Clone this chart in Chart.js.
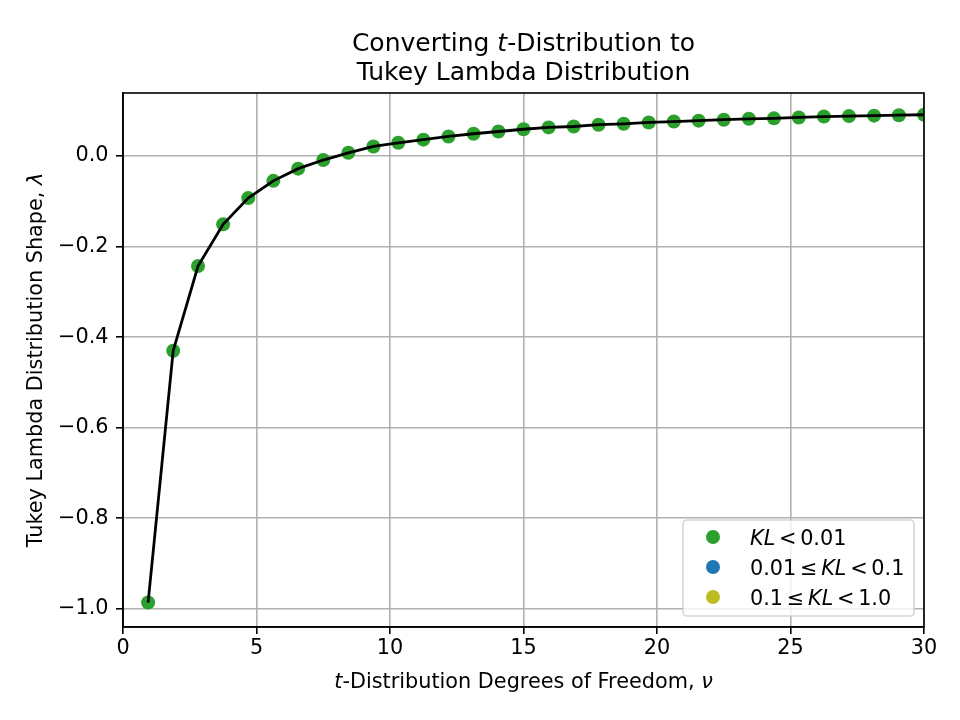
<!DOCTYPE html>
<html>
<head>
<meta charset="utf-8">
<script src="https://cdn.jsdelivr.net/npm/chart.js@4/dist/chart.umd.min.js"></script>
<style>
  html, body { margin: 0; background: #fff; }
</style>
</head>
<body>
<canvas id="graph-area" width="960" height="720"></canvas>
<script>
// degrees of freedom (x) and fitted Tukey lambda shape (y)
const dof = [0.94, 1.88, 2.81, 3.75, 4.69, 5.63, 6.56, 7.5, 8.44, 9.38, 10.31, 11.25,
  12.19, 13.13, 14.06, 15, 15.94, 16.88, 17.81, 18.75, 19.69, 20.63, 21.56, 22.5,
  23.44, 24.38, 25.31, 26.25, 27.19, 28.13, 29.06, 30];
const lambdaShape = [-0.986, -0.430, -0.243, -0.151, -0.093, -0.055, -0.028, -0.009,
  0.007, 0.021, 0.029, 0.036, 0.043, 0.049, 0.054, 0.059, 0.063, 0.065, 0.069, 0.071,
  0.074, 0.076, 0.078, 0.080, 0.082, 0.083, 0.085, 0.087, 0.088, 0.089, 0.090, 0.091];
// no points fall in the two higher KL bins
const lambdaMidKL = [];
const lambdaHighKL = [];

const xTicks = [0, 5, 10, 15, 20, 25, 30];
const yTicks = [-1.0, -0.8, -0.6, -0.4, -0.2, 0.0];

const FONT = '"DejaVu Sans", "Liberation Sans", sans-serif';
const GREEN = '#2ca02c', BLUE = '#1f77b4', OLIVE = '#bcbd22';

// rich text pieces: i = italic (mathtext), sp = thin math space
const titleLines = [
  [{t: 'Converting '}, {t: 't', i: true}, {t: '-Distribution to'}],
  [{t: 'Tukey Lambda Distribution'}]
];
const xLabel = [{t: 't', i: true}, {t: '-Distribution Degrees of Freedom, '}, {t: 'ν', i: true}];
const yLabel = [{t: 'Tukey Lambda Distribution Shape, '}, {t: 'λ', i: true}];
const SP = {sp: true};
const legendItems = [
  {color: GREEN, parts: [{t: 'KL', i: true}, SP, {t: '<'}, SP, {t: '0.01'}]},
  {color: BLUE, parts: [{t: '0.01'}, SP, {t: '≤'}, SP, {t: 'KL', i: true}, SP, {t: '<'}, SP, {t: '0.1'}]},
  {color: OLIVE, parts: [{t: '0.1'}, SP, {t: '≤'}, SP, {t: 'KL', i: true}, SP, {t: '<'}, SP, {t: '1.0'}]}
];

function partWidth(ctx, p, size) {
  if (p.sp) return 0.18 * size;
  ctx.font = (p.i ? 'italic ' : '') + size + 'px ' + FONT;
  return ctx.measureText(p.t).width;
}

function drawRich(ctx, parts, x, y, size, align) {
  const total = parts.reduce((w, p) => w + partWidth(ctx, p, size), 0);
  let cx = align === 'center' ? x - total / 2 : x;
  ctx.textAlign = 'left';
  ctx.textBaseline = 'alphabetic';
  ctx.fillStyle = '#000';
  parts.forEach(p => {
    const w = partWidth(ctx, p, size);
    if (!p.sp) ctx.fillText(p.t, cx, y);
    cx += w;
  });
}

const decorations = {
  id: 'decorations',
  afterDatasetsDraw(chart) {
    const ctx = chart.ctx;
    const a = chart.chartArea;
    ctx.save();
    // full frame (top/right spines)
    ctx.strokeStyle = '#000';
    ctx.lineWidth = 1.6;
    ctx.strokeRect(a.left, a.top, a.right - a.left, a.bottom - a.top);

    // title
    const cx = (a.left + a.right) / 2;
    drawRich(ctx, titleLines[0], cx, 51, 25, 'center');
    drawRich(ctx, titleLines[1], cx, 80, 25, 'center');

    // axis labels
    drawRich(ctx, xLabel, cx, 688, 20.8, 'center');
    ctx.save();
    ctx.translate(42, (a.top + a.bottom) / 2);
    ctx.rotate(-Math.PI / 2);
    drawRich(ctx, yLabel, 0, 0, 20.8, 'center');
    ctx.restore();

    // legend
    const bw = 231, bh = 96;
    const bx = a.right - 10 - bw, by = a.bottom - 11 - bh;
    ctx.beginPath();
    ctx.roundRect(bx, by, bw, bh, 4);
    ctx.fillStyle = 'rgba(255,255,255,0.8)';
    ctx.fill();
    ctx.strokeStyle = 'rgba(204,204,204,0.8)';
    ctx.lineWidth = 1.6;
    ctx.stroke();
    legendItems.forEach((item, k) => {
      const yy = by + 17 + k * 30;
      ctx.beginPath();
      ctx.arc(bx + 30, yy, 7, 0, Math.PI * 2);
      ctx.fillStyle = item.color;
      ctx.fill();
      drawRich(ctx, item.parts, bx + 67, yy + 7.5, 20.8, 'left');
    });
    ctx.restore();
  }
};

const toPoints = ys => ys.map((y, i) => ({x: dof[i], y}));

const ctx = document.querySelector('#graph-area').getContext('2d');
new Chart(ctx, {
  type: 'scatter',
  data: {
    datasets: [
      {
        label: 'fit',
        data: toPoints(lambdaShape),
        showLine: true,
        borderColor: '#000',
        borderWidth: 2.8,
        pointRadius: 0,
        clip: 0,
        order: 0
      },
      {label: 'KL < 0.01', data: toPoints(lambdaShape), backgroundColor: GREEN,
        borderWidth: 0, pointRadius: 7, clip: 0, order: 1},
      {label: '0.01 ≤ KL < 0.1', data: toPoints(lambdaMidKL), backgroundColor: BLUE,
        borderWidth: 0, pointRadius: 7, clip: 0, order: 2},
      {label: '0.1 ≤ KL < 1.0', data: toPoints(lambdaHighKL), backgroundColor: OLIVE,
        borderWidth: 0, pointRadius: 7, clip: 0, order: 3}
    ]
  },
  options: {
    responsive: false,
    animation: false,
    layout: {padding: {top: 93, right: 36, left: 0, bottom: 0}},
    plugins: {legend: {display: false}, title: {display: false}, tooltip: {enabled: false}},
    scales: {
      x: {
        type: 'linear',
        min: 0,
        max: 30,
        afterFit: s => { s.height = 93; },
        afterBuildTicks: s => { s.ticks = xTicks.map(v => ({value: v})); },
        grid: {color: '#b0b0b0', lineWidth: 1.6, tickColor: '#000', tickLength: 7, tickWidth: 1.6},
        border: {color: '#000', width: 1.6},
        ticks: {color: '#000', font: {family: FONT, size: 20.8}, padding: 2, maxRotation: 0,
          callback: v => String(v)}
      },
      y: {
        type: 'linear',
        min: -1.04,
        max: 0.139,
        afterFit: s => { s.width = 123; },
        afterBuildTicks: s => { s.ticks = yTicks.map(v => ({value: v})); },
        grid: {color: '#b0b0b0', lineWidth: 1.6, tickColor: '#000', tickLength: 7, tickWidth: 1.6},
        border: {color: '#000', width: 1.6},
        ticks: {color: '#000', font: {family: FONT, size: 20.8}, padding: 7.5,
          callback: v => v.toFixed(1).replace('-', '\u2212')}
      }
    }
  },
  plugins: [decorations]
});
</script>
</body>
</html>
